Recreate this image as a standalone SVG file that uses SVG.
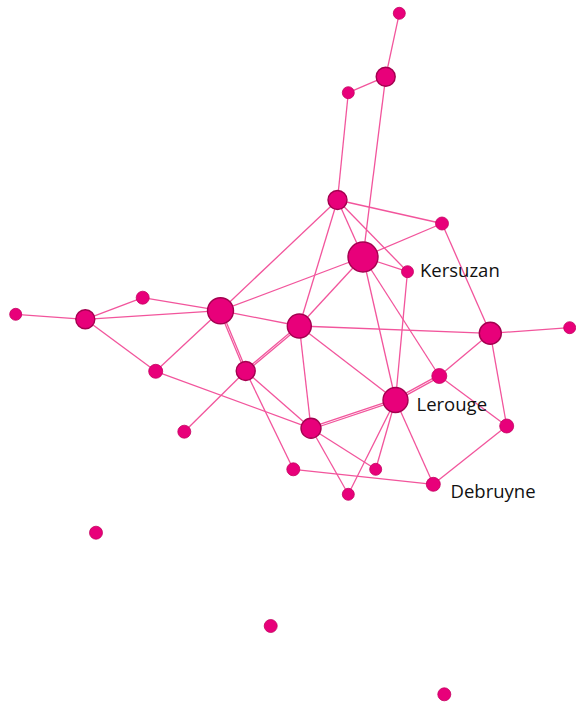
<svg xmlns="http://www.w3.org/2000/svg" width="576" height="703" viewBox="0 0 576 703">
  <style>
    .edge { stroke: #f2559c; stroke-width: 1.3; fill: none; }
    .node circle { fill: #e8007a; stroke: #a3004f; stroke-width: 1.4; }
    .node.small circle { stroke: #c4005f; stroke-width: 0.8; }
    .label { font-family: "Open Sans", "Liberation Sans", sans-serif; font-size: 18.5px; fill: #111111; }
  </style>
  <rect width="576" height="703" fill="#ffffff"/>

  <g id="edges">
    <line class="edge" x1="399.3" y1="13.3" x2="385.7" y2="76.7"/>
    <line class="edge" x1="385.7" y1="76.7" x2="348.3" y2="92.7"/>
    <line class="edge" x1="348.3" y1="92.7" x2="337.5" y2="200"/>
    <line class="edge" x1="385.7" y1="76.7" x2="363" y2="257"/>
    <line class="edge" x1="337.5" y1="200" x2="442" y2="223.5"/>
    <line class="edge" x1="337.5" y1="200" x2="363" y2="257"/>
    <line class="edge" x1="337.5" y1="200" x2="407.5" y2="271.7"/>
    <line class="edge" x1="337.5" y1="200" x2="220.5" y2="310.7"/>
    <line class="edge" x1="337.5" y1="200" x2="299.3" y2="326"/>
    <line class="edge" x1="363" y1="257" x2="442" y2="223.5"/>
    <line class="edge" x1="363" y1="257" x2="407.5" y2="271.7"/>
    <line class="edge" x1="363" y1="257" x2="220.5" y2="310.7"/>
    <line class="edge" x1="363" y1="257" x2="299.3" y2="326"/>
    <line class="edge" x1="363" y1="257" x2="395.5" y2="400"/>
    <line class="edge" x1="363" y1="257" x2="439.3" y2="376"/>
    <line class="edge" x1="407.5" y1="271.7" x2="395.5" y2="400"/>
    <line class="edge" x1="442" y1="223.5" x2="490.3" y2="333.3"/>
    <line class="edge" x1="490.3" y1="333.3" x2="569.7" y2="327.7"/>
    <line class="edge" x1="490.3" y1="333.3" x2="439.3" y2="376"/>
    <line class="edge" x1="490.3" y1="333.3" x2="506.7" y2="426"/>
    <line class="edge" x1="439.3" y1="376" x2="506.7" y2="426"/>
    <line class="edge" x1="395.98" y1="400.88" x2="439.78" y2="376.88"/>
    <line class="edge" x1="395.02" y1="399.12" x2="438.82" y2="375.12"/>
    <line class="edge" x1="299.3" y1="326" x2="220.5" y2="310.7"/>
    <line class="edge" x1="299.3" y1="326" x2="490.3" y2="333.3"/>
    <line class="edge" x1="299.88" y1="326.69" x2="246.28" y2="371.69"/>
    <line class="edge" x1="298.72" y1="325.31" x2="245.12" y2="370.31"/>
    <line class="edge" x1="299.3" y1="326" x2="311" y2="428.3"/>
    <line class="edge" x1="299.3" y1="326" x2="395.5" y2="400"/>
    <line class="edge" x1="221.33" y1="310.35" x2="246.53" y2="370.65"/>
    <line class="edge" x1="219.67" y1="311.05" x2="244.87" y2="371.35"/>
    <line class="edge" x1="220.5" y1="310.7" x2="85.3" y2="319.3"/>
    <line class="edge" x1="220.5" y1="310.7" x2="142.7" y2="297.7"/>
    <line class="edge" x1="220.5" y1="310.7" x2="155.7" y2="371.3"/>
    <line class="edge" x1="15.7" y1="314.3" x2="85.3" y2="319.3"/>
    <line class="edge" x1="85.3" y1="319.3" x2="142.7" y2="297.7"/>
    <line class="edge" x1="85.3" y1="319.3" x2="155.7" y2="371.3"/>
    <line class="edge" x1="155.7" y1="371.3" x2="311" y2="428.3"/>
    <line class="edge" x1="184.3" y1="431.7" x2="245.7" y2="371"/>
    <line class="edge" x1="245.7" y1="371" x2="311" y2="428.3"/>
    <line class="edge" x1="245.7" y1="371" x2="293.3" y2="469.3"/>
    <line class="edge" x1="395.82" y1="400.95" x2="311.32" y2="429.25"/>
    <line class="edge" x1="395.18" y1="399.05" x2="310.68" y2="427.35"/>
    <line class="edge" x1="311" y1="428.3" x2="375.7" y2="469.3"/>
    <line class="edge" x1="311" y1="428.3" x2="348.3" y2="494.3"/>
    <line class="edge" x1="395.5" y1="400" x2="375.7" y2="469.3"/>
    <line class="edge" x1="395.5" y1="400" x2="348.3" y2="494.3"/>
    <line class="edge" x1="395.5" y1="400" x2="433.3" y2="484.3"/>
    <line class="edge" x1="293.3" y1="469.3" x2="433.3" y2="484.3"/>
    <line class="edge" x1="433.3" y1="484.3" x2="506.7" y2="426"/>
  </g>

  <g id="n1" class="node small"><circle cx="399.3" cy="13.3" r="6"/></g>
  <g id="n2" class="node"><circle cx="385.7" cy="76.7" r="9.5"/></g>
  <g id="n3" class="node small"><circle cx="348.3" cy="92.7" r="6"/></g>
  <g id="n4" class="node"><circle cx="337.5" cy="200" r="9.5"/></g>
  <g id="n5" class="node small"><circle cx="442" cy="223.5" r="6.5"/></g>
  <g id="n6" class="node"><circle cx="363" cy="257" r="15"/></g>
  <g id="kersuzan" class="node small">
    <circle cx="407.5" cy="271.7" r="6"/>
    <text class="label" x="420" y="277.3">Kersuzan</text>
  </g>
  <g id="n8" class="node"><circle cx="220.5" cy="310.7" r="13"/></g>
  <g id="n9" class="node"><circle cx="299.3" cy="326" r="12"/></g>
  <g id="n10" class="node"><circle cx="245.7" cy="371" r="9.5"/></g>
  <g id="n11" class="node small"><circle cx="15.7" cy="314.3" r="6"/></g>
  <g id="n12" class="node"><circle cx="85.3" cy="319.3" r="9.5"/></g>
  <g id="n13" class="node small"><circle cx="142.7" cy="297.7" r="6.5"/></g>
  <g id="n14" class="node small"><circle cx="155.7" cy="371.3" r="7"/></g>
  <g id="n15" class="node small"><circle cx="184.3" cy="431.7" r="6.5"/></g>
  <g id="n16" class="node"><circle cx="490.3" cy="333.3" r="11"/></g>
  <g id="n17" class="node small"><circle cx="569.7" cy="327.7" r="6"/></g>
  <g id="n18" class="node small"><circle cx="439.3" cy="376" r="7.5"/></g>
  <g id="lerouge" class="node">
    <circle cx="395.5" cy="400" r="12.5"/>
    <text class="label" x="416.5" y="410.7">Lerouge</text>
  </g>
  <g id="n20" class="node small"><circle cx="506.7" cy="426" r="7"/></g>
  <g id="n21" class="node"><circle cx="311" cy="428.3" r="10"/></g>
  <g id="n22" class="node small"><circle cx="293.3" cy="469.3" r="6.5"/></g>
  <g id="n23" class="node small"><circle cx="375.7" cy="469.3" r="6"/></g>
  <g id="debruyne" class="node small">
    <circle cx="433.3" cy="484.3" r="7"/>
    <text class="label" x="450.5" y="498.3">Debruyne</text>
  </g>
  <g id="n25" class="node small"><circle cx="348.3" cy="494.3" r="6"/></g>
  <g id="n26" class="node small"><circle cx="96" cy="532.7" r="6.5"/></g>
  <g id="n27" class="node small"><circle cx="270.7" cy="626" r="6.5"/></g>
  <g id="n28" class="node small"><circle cx="444.3" cy="694.3" r="6.5"/></g>
</svg>
